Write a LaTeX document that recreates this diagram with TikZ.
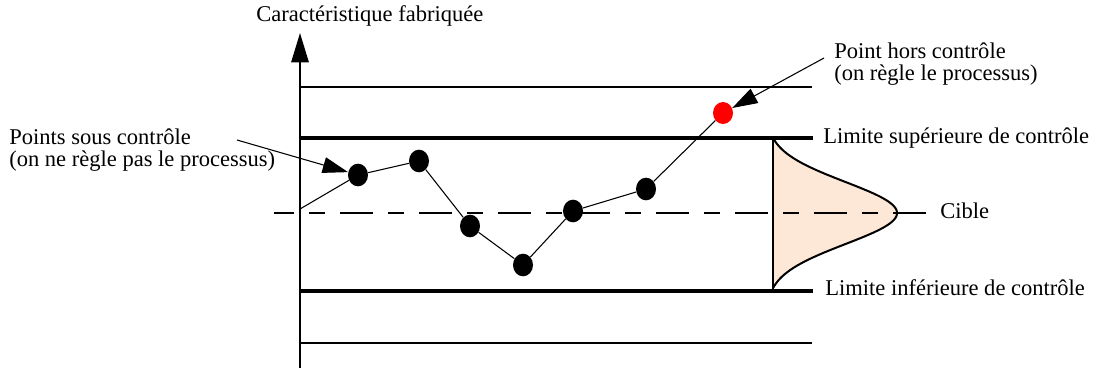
\documentclass[tikz,border=0pt]{standalone}
\usepackage{fontspec}
\setmainfont{Liberation Serif}
\usetikzlibrary{arrows.meta,shapes.geometric}
\definecolor{peach}{RGB}{253,232,216}
\definecolor{outred}{RGB}{255,0,0}
\begin{document}
\begin{tikzpicture}[x=0.75pt,y=-0.75pt,
  lbl/.style={font=\fontsize{16.9}{16}\selectfont,inner sep=0pt,anchor=base west},
  dot/.style={ellipse,fill=black,minimum width=15pt,minimum height=17pt,inner sep=0pt},
  reddot/.style={dot,fill=outred,minimum width=15pt,minimum height=16.5pt},
  limitline/.style={line width=3pt},
  gridline/.style={line width=1.5pt},
  trend/.style={line width=0.8pt},
  callout/.style={line width=0.8pt,-{Triangle[length=19pt,width=12pt]}},
  cibleline/.style={line width=1.5pt,dash pattern=on 24.75pt off 11.25pt on 12pt off 11.25pt,dash phase=9.75pt}
]
\useasboundingbox (0,0) rectangle (1094,369);
% distribution fill
\fill[peach] (773,140) -- plot[domain=-75:75,samples=80] ({773+131*(exp(-(\x/31)*(\x/31)/2)-0.053)},{213+\x}) -- cycle;
\draw[line width=1.5pt] plot[domain=-75:75,samples=80] ({773+131*(exp(-(\x/31)*(\x/31)/2)-0.053)},{213+\x});
\draw[gridline] (773,139) -- (773,291);
% coordinates
\coordinate (ax0) at (300,368);
\coordinate (ax1) at (300,33);
\coordinate (tl0) at (300,87);   \coordinate (tl1) at (812,87);
\coordinate (ul0) at (300,138);  \coordinate (ul1) at (813,138);
\coordinate (cl0) at (274,213);  \coordinate (cl1) at (930,213);
\coordinate (ll0) at (300,291);  \coordinate (ll1) at (813,291);
\coordinate (bl0) at (300,343);  \coordinate (bl1) at (812,343);
\coordinate (start) at (300,209);
% lines
\draw[gridline] (tl0) -- (tl1);
\draw[gridline] (bl0) -- (bl1);
\draw[limitline] (ul0) -- (ul1);
\draw[limitline] (ll0) -- (ll1);
\draw[cibleline] (cl0) -- (cl1);
\draw[gridline,-{Triangle[length=22pt,width=13pt]}] (ax0) -- (ax1);
% points
\node[dot] (p1) at (358,175) {};
\node[dot] (p2) at (419,161) {};
\node[dot] (p3) at (470,226) {};
\node[dot] (p4) at (523,265) {};
\node[dot] (p5) at (573,211) {};
\node[dot] (p6) at (646,189) {};
\node[reddot] (p7) at (723,113) {};
\draw[trend] (start) -- (p1) -- (p2) -- (p3) -- (p4) -- (p5) -- (p6) -- (p7);
% labels
\node[lbl] (ylab) at (256,21) {Caractéristique fabriquée};
\node[lbl] (hors1) at (834,58) {Point hors contrôle};
\node[lbl] (hors2) at (834,80) {(on règle le processus)};
\node[lbl] (sous1) at (9,144) {Points sous contrôle};
\node[lbl] (sous2) at (9,166) {(on ne règle pas le processus)};
\node[lbl] (lsup) at (823,143) {Limite supérieure de contrôle};
\node[lbl] (cible) at (940,218) {Cible};
\node[lbl] (linf) at (825,295) {Limite inférieure de contrôle};
% callouts
\coordinate (hs) at (824,58);
\coordinate (ss) at (237,140);
\draw[callout] (hs) -- (p7);
\draw[callout] (ss) -- (p1);
\end{tikzpicture}
\end{document}
